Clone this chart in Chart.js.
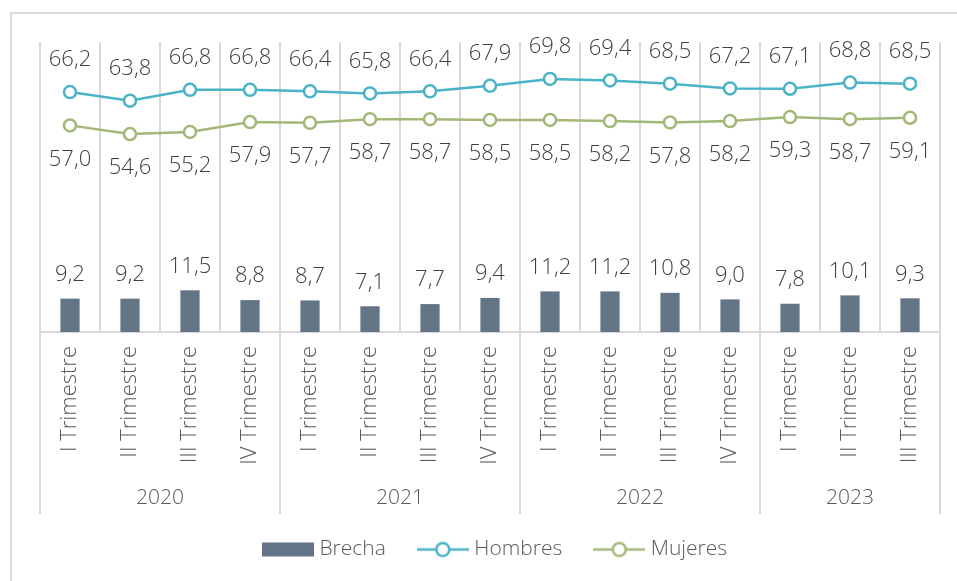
<!DOCTYPE html>
<html>
<head>
<meta charset="utf-8">
<script src="https://cdn.jsdelivr.net/npm/chart.js@4"></script>
<style>
  html, body { margin: 0; padding: 0; background: #ffffff; overflow: hidden; }
  #wrap { position: relative; width: 957px; height: 581px; }
  #frame { position: absolute; left: 10px; top: 12px; width: 1000px; height: 700px;
           border-top: 2px solid #d9d9d9; border-left: 2px solid #d9d9d9; box-sizing: border-box; }
  canvas { position: absolute; left: 0; top: 0; }
</style>
</head>
<body>
<div id="wrap">
  <div id="frame"></div>
  <canvas id="c" width="957" height="581"></canvas>
</div>
<script>
const categories = ['I Trimestre','II Trimestre','III Trimestre','IV Trimestre',
                    'I Trimestre','II Trimestre','III Trimestre','IV Trimestre',
                    'I Trimestre','II Trimestre','III Trimestre','IV Trimestre',
                    'I Trimestre','II Trimestre','III Trimestre'];
const years = ['2020','2021','2022','2023'];
const quartersPerYear = [4, 4, 4, 3];
const brecha   = [9.2, 9.2, 11.5, 8.8, 8.7, 7.1, 7.7, 9.4, 11.2, 11.2, 10.8, 9.0, 7.8, 10.1, 9.3];
const hombres  = [66.2, 63.8, 66.8, 66.8, 66.4, 65.8, 66.4, 67.9, 69.8, 69.4, 68.5, 67.2, 67.1, 68.8, 68.5];
const mujeres  = [57.0, 54.6, 55.2, 57.9, 57.7, 58.7, 58.7, 58.5, 58.5, 58.2, 57.8, 58.2, 59.3, 58.7, 59.1];

const FONT = "'Open Sans', 'Noto Sans', sans-serif";
const C_BAR = '#637487';
const C_H = '#4bb3c8';
const C_M = '#a3b878';

function fmt(v) { return v.toFixed(1).replace('.', ','); }

function legendImg(type, color) {
  const cv = document.createElement('canvas');
  cv.width = 52; cv.height = 18;
  const g = cv.getContext('2d');
  if (type === 'box') {
    g.fillStyle = color;
    g.fillRect(0, 2, 52, 14);
  } else {
    g.strokeStyle = color; g.lineWidth = 2.5;
    g.beginPath(); g.moveTo(0, 9); g.lineTo(52, 9); g.stroke();
    g.beginPath(); g.arc(26, 9, 6.5, 0, Math.PI * 2);
    g.fillStyle = '#ffffff'; g.fill(); g.stroke();
  }
  return cv;
}
const legendImages = [legendImg('box', C_BAR), legendImg('line', C_H), legendImg('line', C_M)];

const labelPlugin = {
  id: 'valueLabels',
  afterLayout(chart) {
    if (chart.legend) { chart.legend.left += 7; chart.legend.right += 7; }
  },
  afterDatasetsDraw(chart) {
    const ctx = chart.ctx;
    ctx.save();
    ctx.font = '300 22px ' + FONT;
    ctx.fillStyle = '#404040';
    ctx.textAlign = 'center';
    ctx.textBaseline = 'middle';
    chart.data.datasets.forEach((ds, di) => {
      const meta = chart.getDatasetMeta(di);
      meta.data.forEach((el, i) => {
        ctx.fillText(fmt(ds.data[i]), el.x, el.y + ds.labelOffset);
      });
    });
    ctx.restore();
  }
};

const yearPlugin = {
  id: 'yearGroups',
  afterDraw(chart) {
    const ctx = chart.ctx;
    const xs = chart.scales.x;
    const n = categories.length;
    const cw = (xs.right - xs.left) / n;
    const top = chart.chartArea.bottom;
    ctx.save();
    ctx.strokeStyle = '#d9d9d9';
    ctx.lineWidth = 2;
    ctx.font = '300 21px ' + FONT;
    ctx.fillStyle = '#595959';
    ctx.textAlign = 'center';
    ctx.textBaseline = 'middle';
    let start = 0;
    const edges = [0];
    years.forEach((y, k) => {
      const end = start + quartersPerYear[k];
      const xl = xs.getPixelForValue(start) - cw / 2;
      const xr = xs.getPixelForValue(end - 1) + cw / 2;
      ctx.fillText(y, (xl + xr) / 2, top + 166);
      edges.push(end);
      start = end;
    });
    edges.forEach(e => {
      const x = e < n ? xs.getPixelForValue(e) - cw / 2 : xs.getPixelForValue(n - 1) + cw / 2;
      ctx.beginPath();
      ctx.moveTo(x, top);
      ctx.lineTo(x, top + 182);
      ctx.stroke();
    });
    ctx.restore();
  }
};

new Chart(document.getElementById('c'), {
  data: {
    labels: categories,
    datasets: [
      { type: 'bar', label: 'Brecha', data: brecha, backgroundColor: C_BAR,
        barPercentage: 0.32, categoryPercentage: 1, order: 3, labelOffset: -24 },
      { type: 'line', label: 'Hombres', data: hombres, borderColor: C_H, borderWidth: 2.5,
        pointRadius: 6, pointBorderWidth: 2.5, pointBackgroundColor: '#ffffff', pointBorderColor: C_H,
        tension: 0, order: 1, labelOffset: -32 },
      { type: 'line', label: 'Mujeres', data: mujeres, borderColor: C_M, borderWidth: 2.5,
        pointRadius: 6, pointBorderWidth: 2.5, pointBackgroundColor: '#ffffff', pointBorderColor: C_M,
        tension: 0, order: 2, labelOffset: 34 }
    ]
  },
  options: {
    responsive: false,
    animation: false,
    layout: { padding: { left: 40, right: 17, top: 42, bottom: 11 } },
    scales: {
      x: {
        type: 'category',
        offset: true,
        grid: { display: true, offset: true, color: '#d9d9d9', lineWidth: 2, drawTicks: false },
        border: { display: true, color: '#d9d9d9', width: 2 },
        ticks: { minRotation: 90, maxRotation: 90, autoSkip: false, padding: 14,
                 color: '#595959', font: { family: FONT, size: 22, weight: 300 } },
        afterFit(scale) { scale.height = 171; }
      },
      y: { display: false, min: 0, max: 80 }
    },
    plugins: {
      tooltip: { enabled: false },
      legend: {
        position: 'bottom',
        labels: {
          usePointStyle: true,
          pointStyleWidth: 42,
          padding: 36,
          color: '#595959',
          font: { family: FONT, size: 21, weight: 300 },
          generateLabels(chart) {
            return chart.data.datasets.map((ds, i) => ({
              text: ds.label, pointStyle: legendImages[i], fillStyle: 'transparent',
              strokeStyle: 'transparent', lineWidth: 0, hidden: false, datasetIndex: i, fontColor: '#595959'
            }));
          }
        }
      }
    }
  },
  plugins: [labelPlugin, yearPlugin]
});
</script>
</body>
</html>
